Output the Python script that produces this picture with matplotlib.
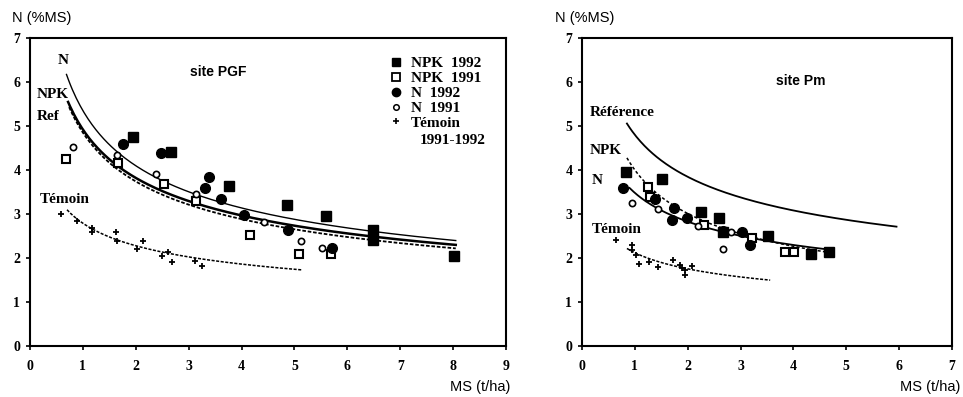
import numpy as np
import matplotlib
matplotlib.use("Agg")
import matplotlib.pyplot as plt
from matplotlib.lines import Line2D

# ---------------- data: site PGF (left) ----------------
pgf_npk92_x = [1.94, 2.66, 3.76, 4.85, 5.60, 6.48, 6.48, 8.01]
pgf_npk92_y = [4.74, 4.42, 3.64, 3.20, 2.95, 2.64, 2.42, 2.05]
pgf_npk91_x = [0.68, 1.66, 2.54, 3.13, 4.16, 5.09, 5.70]
pgf_npk91_y = [4.24, 4.15, 3.68, 3.30, 2.52, 2.10, 2.08]
pgf_n92_x = [1.75, 2.47, 3.38, 3.30, 3.62, 4.04, 4.87, 5.71]
pgf_n92_y = [4.60, 4.39, 3.85, 3.58, 3.33, 2.98, 2.64, 2.22]
pgf_n91_x = [0.81, 1.64, 2.38, 3.13, 4.43, 5.12, 5.52]
pgf_n91_y = [4.53, 4.34, 3.91, 3.45, 2.81, 2.39, 2.23]
pgf_tem_x = [0.58, 0.89, 1.18, 1.18, 1.63, 1.65, 2.03, 2.14, 2.49, 2.60, 2.68, 3.12, 3.26]
pgf_tem_y = [3.00, 2.85, 2.68, 2.60, 2.59, 2.39, 2.20, 2.39, 2.05, 2.13, 1.90, 1.94, 1.82]

# dilution curves N = a * MS^-b  (a, b, x start, x end)
pgf_curve_N = [5.35, 0.385, 0.69, 8.05]
pgf_curve_NPK = [4.92, 0.365, 0.72, 8.05]
pgf_curve_Ref = [4.85, 0.375, 0.74, 8.05]
pgf_curve_tem = [2.79, 0.292, 0.70, 5.15]

# ---------------- data: site Pm (right) ----------------
pm_npk92_x = [0.83, 1.52, 2.26, 2.60, 2.66, 3.52, 4.33, 4.68]
pm_npk92_y = [3.96, 3.79, 3.05, 2.90, 2.60, 2.50, 2.09, 2.14]
pm_npk91_x = [1.25, 1.29, 2.30, 3.22, 3.84, 4.01]
pm_npk91_y = [3.62, 3.39, 2.76, 2.46, 2.14, 2.13]
pm_n92_x = [0.78, 1.38, 1.74, 1.70, 1.99, 2.67, 3.03, 3.18]
pm_n92_y = [3.60, 3.33, 3.13, 2.86, 2.90, 2.62, 2.59, 2.30]
pm_n91_x = [0.94, 1.44, 2.20, 2.81, 2.67]
pm_n91_y = [3.26, 3.12, 2.73, 2.59, 2.20]
pm_tem_x = [0.64, 0.94, 0.94, 1.03, 1.08, 1.27, 1.44, 1.72, 1.86, 1.89, 1.95, 1.94, 2.09]
pm_tem_y = [2.41, 2.30, 2.18, 2.07, 1.86, 1.92, 1.80, 1.95, 1.84, 1.77, 1.73, 1.61, 1.82]

pm_curve_Ref = [4.80, 0.32, 0.85, 5.95]
pm_curve_NPK = [4.00, 0.41, 0.85, 4.75]
pm_curve_N = [3.48, 0.30, 0.90, 4.70]
pm_curve_tem = [2.12, 0.274, 0.85, 3.56]

y_ticks = [0, 1, 2, 3, 4, 5, 6, 7]
legend_labels = ["NPK  1992", "NPK  1991", "N  1992", "N  1991", "Témoin"]
legend_extra = "1991-1992"

SERIF = ["Liberation Serif", "DejaVu Serif"]
SANS = ["Liberation Sans", "DejaVu Sans"]

fig = plt.figure(figsize=(9.63, 3.97), dpi=100)
axL = fig.add_axes([30 / 963, 51 / 397, 476 / 963, 308 / 397])
axR = fig.add_axes([582 / 963, 51 / 397, 370 / 963, 308 / 397])


def curve(ax, p, **kw):
    a, b, x0, x1 = p
    xs = np.linspace(x0, x1, 200)
    ax.plot(xs, a * xs ** (-b), color="black", **kw)


def points(ax, sx, sy, sx2, sy2, cx, cy, ox, oy, tx, ty):
    ax.plot(sx, sy, ls="none", marker="s", ms=7, mfc="black", mec="black", zorder=5)
    ax.plot(sx2, sy2, ls="none", marker="s", ms=6.2, mfc="white", mec="black", mew=1.5, zorder=5)
    ax.plot(cx, cy, ls="none", marker="o", ms=7, mfc="black", mec="black", zorder=5)
    ax.plot(ox, oy, ls="none", marker="o", ms=4.5, mfc="white", mec="black", mew=1.2, zorder=5)
    ax.plot(tx, ty, ls="none", marker="+", ms=5, mec="black", mew=1.3, zorder=5)


def style(ax, xmax):
    ax.set_xlim(0, xmax)
    ax.set_ylim(0, 7)
    ax.set_xticks(range(0, xmax + 1))
    ax.set_yticks(y_ticks)
    for s in ax.spines.values():
        s.set_linewidth(1.5)
    ax.tick_params(direction="out", length=3, width=1.2, pad=4)
    for lab in ax.get_xticklabels() + ax.get_yticklabels():
        lab.set_family(SERIF)
        lab.set_fontweight("bold")
        lab.set_fontsize(10)
    ax.tick_params(axis="x", pad=7)


# ---- left panel ----
curve(axL, pgf_curve_N, lw=1.0)
curve(axL, pgf_curve_NPK, lw=1.8)
curve(axL, pgf_curve_Ref, lw=1.3, ls=(0, (2, 1)))
curve(axL, pgf_curve_tem, lw=1.1, ls=(0, (2, 1)))
points(axL, pgf_npk92_x, pgf_npk92_y, pgf_npk91_x, pgf_npk91_y,
       pgf_n92_x, pgf_n92_y, pgf_n91_x, pgf_n91_y, pgf_tem_x, pgf_tem_y)
style(axL, 9)

tkw = dict(family=SERIF, fontweight="bold", fontsize=11)
axL.text(0.63, 6.5, "N", ha="center", va="center", **tkw)
axL.text(0.12, 5.72, "NPK", ha="left", va="center", **tkw)
axL.text(0.12, 5.22, "Ref", ha="left", va="center", **tkw)
axL.text(0.18, 3.32, "Témoin", ha="left", va="center", **tkw)
axL.text(3.55, 6.22, "site PGF", ha="center", va="center", family=SANS,
         fontweight="bold", fontsize=10)

handles = [
    Line2D([], [], ls="none", marker="s", ms=6, mfc="black", mec="black"),
    Line2D([], [], ls="none", marker="s", ms=5.5, mfc="white", mec="black", mew=1.3),
    Line2D([], [], ls="none", marker="o", ms=6, mfc="black", mec="black"),
    Line2D([], [], ls="none", marker="o", ms=4, mfc="white", mec="black", mew=1.1),
    Line2D([], [], ls="none", marker="+", ms=4.5, mec="black", mew=1.2),
]
leg = axL.legend(handles, legend_labels, loc="upper left", bbox_to_anchor=(0.758, 0.94),
                 frameon=False, handlelength=0.7, handletextpad=0.6, labelspacing=0.08,
                 borderpad=0, borderaxespad=0,
                 prop=dict(family=SERIF, weight="bold", size=11))
axL.text(7.37, 4.66, legend_extra, ha="left", va="center", **tkw)

fig.text(12 / 963, 1 - 18 / 397, "N (%MS)", family=SANS, fontsize=10.5, va="center", ha="left")
fig.text(510 / 963, 1 - 387 / 397, "MS (t/ha)", family=SANS, fontsize=10.5, va="center", ha="right")

# ---- right panel ----
curve(axR, pm_curve_Ref, lw=1.3)
curve(axR, pm_curve_NPK, lw=1.1, ls=(0, (2, 1.5)))
curve(axR, pm_curve_N, lw=1.3)
curve(axR, pm_curve_tem, lw=1.1, ls=(0, (2, 1)))
points(axR, pm_npk92_x, pm_npk92_y, pm_npk91_x, pm_npk91_y,
       pm_n92_x, pm_n92_y, pm_n91_x, pm_n91_y, pm_tem_x, pm_tem_y)
style(axR, 7)

axR.text(0.15, 5.3, "Référence", ha="left", va="center", **tkw)
axR.text(0.15, 4.45, "NPK", ha="left", va="center", **tkw)
axR.text(0.18, 3.77, "N", ha="left", va="center", **tkw)
axR.text(0.18, 2.65, "Témoin", ha="left", va="center", **tkw)
axR.text(4.14, 6.02, "site Pm", ha="center", va="center", family=SANS,
         fontweight="bold", fontsize=10)

fig.text(555 / 963, 1 - 18 / 397, "N (%MS)", family=SANS, fontsize=10.5, va="center", ha="left")
fig.text(960 / 963, 1 - 387 / 397, "MS (t/ha)", family=SANS, fontsize=10.5, va="center", ha="right")

fig.savefig("out.png", dpi=100)
